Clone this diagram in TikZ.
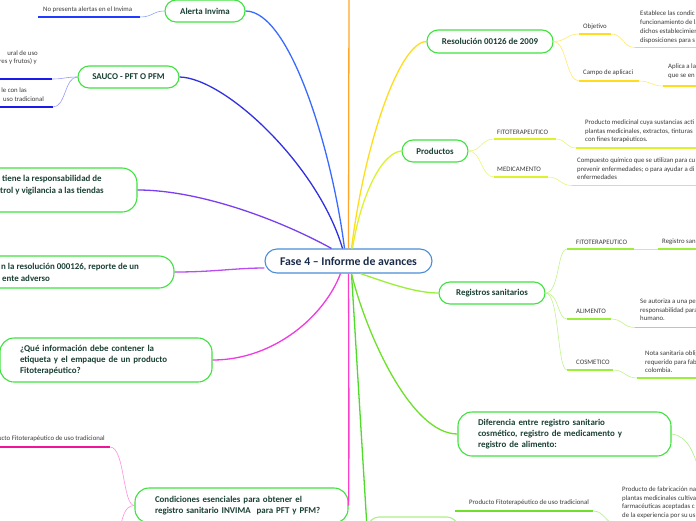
\documentclass[tikz,border=0pt]{standalone}
\usepackage{fontspec}
\setmainfont{Carlito}
\definecolor{topicgreen}{HTML}{3FE23F}
\definecolor{topictext}{HTML}{1A4034}
\definecolor{centerblue}{HTML}{4A8ED8}
\definecolor{centertext}{HTML}{1A2B4A}
\definecolor{leaftext}{HTML}{3A3A3A}
\definecolor{cAlerta}{HTML}{3A6BFF}
\definecolor{cAlertaU}{HTML}{1F3BFF}
\definecolor{cAlertaL}{HTML}{8FA4FF}
\definecolor{cSauco}{HTML}{3030E0}
\definecolor{cSaucoU}{HTML}{1A1AEB}
\definecolor{cSaucoL}{HTML}{9A9AF5}
\definecolor{cResp}{HTML}{7A3FF0}
\definecolor{cAdv}{HTML}{B94EF0}
\definecolor{cQue}{HTML}{EE3AE0}
\definecolor{cCond}{HTML}{FF3EC8}
\definecolor{cCondU}{HTML}{F0149A}
\definecolor{cCondL}{HTML}{FF8FDD}
\definecolor{cOrange}{HTML}{FFA52A}
\definecolor{cResol}{HTML}{FFDC1E}
\definecolor{cResolL}{HTML}{FFE970}
\definecolor{cProd}{HTML}{DDF22C}
\definecolor{cProdL}{HTML}{E8F57A}
\definecolor{cReg}{HTML}{9BEE3A}
\definecolor{cRegL}{HTML}{C2F38C}
\definecolor{cDif}{HTML}{6EE02A}
\definecolor{cDifL}{HTML}{ADEE8A}
\definecolor{cBottom}{HTML}{4EDB2A}
\tikzset{
  topic/.style={draw=topicgreen, line width=1.1pt, rounded corners=11pt, fill=white,
    text=topictext, font=\bfseries\fontsize{8.9}{11.2}\selectfont, inner sep=0pt, align=center},
  bigtopic/.style={topic, rounded corners=14pt, align=left, inner xsep=20pt},
  topictxt/.style={text=topictext, font=\bfseries\fontsize{8.9}{11.2}\selectfont, inner sep=0pt, anchor=west},
  centerbox/.style={draw=centerblue, line width=1.1pt, rounded corners=12pt, fill=white,
    text=centertext, font=\bfseries\fontsize{11.8}{13}\selectfont, inner sep=0pt},
  leaf/.style={text=leaftext, font=\fontsize{6.8}{8.7}\selectfont, inner sep=0pt, anchor=west, align=left},
  leafblock/.style={leaf, anchor=north west},
  branch/.style={line width=1.3pt},
  leafline/.style={line width=0.6pt},
  uline/.style={line width=1.7pt}
}
\begin{document}
\begin{tikzpicture}[x=1pt,y=-1pt]
\useasboundingbox (0,0) rectangle (696,520);
\clip (0,0) rectangle (696,520);

% ---------- topic boxes ----------
\node[centerbox, minimum width=167, minimum height=24] (c) at (348.5,261) {Fase 4 – Informe de avances};
\node[topic, minimum width=80, minimum height=22] (alerta) at (205,11) {Alerta Invima};
\node[topic, minimum width=101, minimum height=22] (sauco) at (128.5,77) {SAUCO - PFT O PFM};
\node[topic, rounded corners=15pt, minimum width=237, minimum height=44] (resp) at (18.5,190) {};
\node[topic, rounded corners=15pt, minimum width=274, minimum height=32] (adv) at (37,272) {};
\node[bigtopic, text width=172, minimum height=44] (quien) at (106,360)
  {¿Qué información debe contener la\\etiqueta y el empaque de un producto\\Fitoterapéutico?};
\node[bigtopic, text width=173, minimum height=35] (cond) at (241.5,505.5)
  {Condiciones esenciales para obtener el\\registro sanitario INVIMA\ \ para PFT y PFM?};
\node[topic, minimum width=126, minimum height=23] (resol) at (490,41.5) {Resolución 00126 de 2009};
\node[topic, minimum width=66, minimum height=22] (prod) at (435,151) {Productos};
\node[topic, minimum width=106, minimum height=22] (reg) at (492,293) {Registros sanitarios};
\node[bigtopic, text width=173, minimum height=44] (dif) at (564.5,434)
  {Diferencia entre registro sanitario\\cosmético, registro de medicamento y\\registro de alimento:};
\node[topic, draw=cDifL, minimum width=90, minimum height=36] (bot) at (413,535) {};

% texts of the cut topics
\node[topictxt] (respa) at (2,179) {tiene la responsabilidad de};
\node[topictxt] (respb) at (0,191) {trol y vigilancia a las tiendas};
\node[topictxt] (adva) at (1,267) {n la resolución 000126, reporte de un};
\node[topictxt] (advb) at (2,278) {ente adverso};

% ---------- main branches ----------
\coordinate (orangeend) at (349,-5);
\draw[branch, cOrange] (c.north) -- (orangeend);
\draw[branch, cAlerta] (alerta.east) .. controls (290,11) and (332,150) .. ([xshift=-4pt]c.north);
\draw[branch, cSauco] (sauco.east) .. controls (225,78) and (318,165) .. ([xshift=-6pt]c.north);
\draw[branch, cResp] (resp.east) .. controls (200,190) and (280,220) .. ([xshift=-17pt]c.north);
\draw[branch, cAdv] (adv.east) .. controls (215,272) and (235,268) .. ([yshift=-7pt]c.west);
\draw[branch, cQue] (quien.east) .. controls (275,360) and (325,315) .. ([xshift=-8pt]c.south);
\draw[branch, cCond] (c.south) .. controls (349,400) and (349,470) .. (cond.east);
\draw[branch, cBottom] ([xshift=3pt]c.south) -- (bot.west);
\draw[branch, cResol] (resol.west) .. controls (400,42) and (365,140) .. ([xshift=3pt]c.north);
\draw[branch, cProd] (prod.west) .. controls (380,153) and (360,200) .. ([xshift=4pt]c.north);
\draw[branch, cReg] ([xshift=12pt]c.south) .. controls (385,282) and (415,293) .. (reg.west);
\draw[branch, cDif] ([xshift=3pt]c.south) .. controls (365,330) and (410,434) .. (dif.west);

% ---------- Alerta Invima ----------
\node[leaf] (t1) at (43,10) {No presenta alertas en el Invima};
\coordinate (u1a) at (38,17); \coordinate (u1b) at (140,17);
\draw[uline, cAlertaU] (u1a) -- (u1b);
\draw[leafline, cAlertaL] (u1b) .. controls +(13,0) and +(-12,0) .. (alerta.west);

% ---------- SAUCO ----------
\node[leaf, anchor=east] (t2a) at (38,53) {ural de uso};
\node[leaf, anchor=east] (t2b) at (37,62) {res y frutos) y};
\coordinate (u2a) at (-5,79); \coordinate (u2b) at (52,79);
\draw[uline, cSaucoU] (u2a) -- (u2b);
\node[leaf, anchor=east] (t3a) at (27,90) {le con las};
\node[leaf] (t3b) at (3,99) {uso tradicional};
\coordinate (u3a) at (-5,107); \coordinate (u3b) at (53,107);
\draw[uline, cSaucoU] (u3a) -- (u3b);
\draw[leafline, cSaucoL] (u2b) .. controls +(13,0) and +(-13,0) .. (sauco.west);
\draw[leafline, cSaucoL] (u3b) .. controls +(13,0) and +(-13,0) .. (sauco.west);

% ---------- Condiciones ----------
\node[leaf, anchor=east] (t4) at (105,439) {ucto Fitoterapéutico de uso tradicional};
\coordinate (u4a) at (-5,447); \coordinate (u4b) at (110,447);
\draw[uline, cCondU] (u4a) -- (u4b);
\draw[leafline, cCondL] (u4b) .. controls +(15,0) and +(-12,0) .. (cond.west);
\coordinate (c4down) at (118,532);
\draw[leafline, cCondL] (cond.west) .. controls +(-12,0) and +(5,-10) .. (c4down);

% ---------- Resolucion ----------
\node[leaf] (t5) at (583,27) {Objetivo};
\coordinate (u5a) at (579,34); \coordinate (u5b) at (611,34);
\draw[uline, cResol] (u5a) -- (u5b);
\draw[leafline, cResolL] (resol.east) .. controls +(13,0) and +(-13,0) .. (u5a);
\coordinate (u5c) at (635,47.5); \coordinate (u5d) at (700,47.5);
\draw[leafline, cResolL] (u5b) .. controls +(12,0) and +(-12,0) .. (u5c);
\draw[uline, cResol] (u5c) -- (u5d);
\node[leafblock] (d5) at (640,11) {Establece las condic\\funcionamiento de la\\dichos establecimien\\disposiciones para s};

\node[leaf] (t6) at (583,73) {Campo de aplicaci};
\coordinate (u6a) at (579,81); \coordinate (u6b) at (639,81);
\draw[uline, cResol] (u6a) -- (u6b);
\draw[leafline, cResolL] (resol.east) .. controls +(13,0) and +(-13,0) .. (u6a);
\coordinate (u6c) at (663,86); \coordinate (u6d) at (700,86);
\draw[leafline, cResolL] (u6b) .. controls +(12,0) and +(-12,0) .. (u6c);
\draw[uline, cResol] (u6c) -- (u6d);
\node[leafblock] (d6) at (668,63.5) {Aplica a la\\que se en};

% ---------- Productos ----------
\node[leaf] (t7) at (497,132) {FITOTERAPEUTICO};
\coordinate (u7a) at (494,139); \coordinate (u7b) at (556,139);
\draw[uline, cProd] (u7a) -- (u7b);
\draw[leafline, cProdL] (prod.east) .. controls +(13,0) and +(-13,0) .. (u7a);
\coordinate (u7c) at (576,148); \coordinate (u7d) at (700,148);
\draw[leafline, cProdL] (u7b) .. controls +(10,0) and +(-10,0) .. (u7c);
\draw[uline, cProd] (u7c) -- (u7d);
\node[leafblock] (d7) at (585,119.5) {Producto medicinal cuya sustancias acti\\plantas medicinales, extractos, tinturas\\con fines terapéuticos.};

\node[leaf] (t8) at (497,169) {MEDICAMENTO};
\coordinate (u8a) at (494,177); \coordinate (u8b) at (548,177);
\draw[uline, cProd] (u8a) -- (u8b);
\draw[leafline, cProdL] (prod.east) .. controls +(13,0) and +(-13,0) .. (u8a);
\coordinate (u8c) at (572,185.5); \coordinate (u8d) at (700,185.5);
\draw[leafline, cProdL] (u8b) .. controls +(12,0) and +(-12,0) .. (u8c);
\draw[uline, cProd] (u8c) -- (u8d);
\node[leafblock] (d8) at (577,157.5) {Compuesto químico que se utilizan para cu\\prevenir enfermedades; o para ayudar a di\\enfermedades};

% ---------- Registros ----------
\node[leaf] (t9) at (576,242) {FITOTERAPEUTICO};
\coordinate (u9a) at (567,249); \coordinate (u9b) at (634,249);
\draw[uline, cReg] (u9a) -- (u9b);
\draw[leafline, cRegL] (reg.east) .. controls +(14,0) and +(-10,0) .. (u9a);
\coordinate (u9c) at (658,249); \coordinate (u9d) at (700,249);
\draw[leafline, cRegL] (u9b) -- (u9c);
\draw[uline, cReg] (u9c) -- (u9d);
\node[leaf] (d9) at (662,242) {Registro san};

\node[leaf] (t10) at (576,311) {ALIMENTO};
\coordinate (u10a) at (567,319); \coordinate (u10b) at (611,319);
\draw[uline, cReg] (u10a) -- (u10b);
\draw[leafline, cRegL] (reg.east) .. controls +(14,0) and +(-10,0) .. (u10a);
\coordinate (u10c) at (635,327.5); \coordinate (u10d) at (700,327.5);
\draw[leafline, cRegL] (u10b) .. controls +(12,0) and +(-12,0) .. (u10c);
\draw[uline, cReg] (u10c) -- (u10d);
\node[leafblock] (d10) at (640,298.5) {Se autoriza a una pe\\responsabilidad para\\humano.};

\node[leaf] (t11) at (576,362) {COSMETICO};
\coordinate (u11a) at (567,370); \coordinate (u11b) at (613,370);
\draw[uline, cReg] (u11a) -- (u11b);
\draw[leafline, cRegL] (reg.east) .. controls +(14,0) and +(-10,0) .. (u11a);
\coordinate (u11c) at (637,378); \coordinate (u11d) at (700,378);
\draw[leafline, cRegL] (u11b) .. controls +(12,0) and +(-12,0) .. (u11c);
\draw[uline, cReg] (u11c) -- (u11d);
\node[leafblock] (d11) at (645,350.5) {Nota sanitaria oblig\\requerido para fab\\colombia.};

% ---------- Diferencia ----------
\coordinate (difend) at (702,480);
\draw[leafline, cDifL] (dif.east) .. controls (688,436) and (694,452) .. (difend);

% ---------- bottom ----------
\node[leaf] (t12) at (469,503) {Producto Fitoterapéutico de uso tradicional};
\coordinate (u12a) at (455,511); \coordinate (u12b) at (593,511);
\draw[uline, cDif] (u12a) -- (u12b);
\coordinate (u12c) at (617,524);
\draw[leafline, cDifL] (u12b) .. controls +(12,0) and +(-12,0) .. (u12c);
\node[leafblock] (d12) at (622,486.5) {Producto de fabricación na\\plantas medicinales cultiva\\farmacéuticas aceptadas c\\de la experiencia por su us};
\end{tikzpicture}
\end{document}
